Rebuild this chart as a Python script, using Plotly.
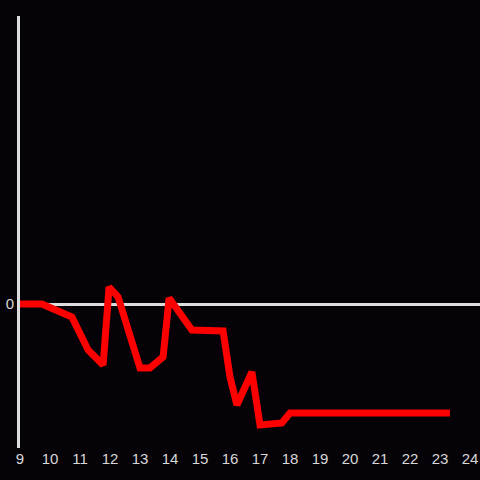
import plotly.graph_objects as go

hours = [9.0, 9.73, 10.73, 11.27, 11.77, 11.97, 12.27, 13.0, 13.33, 13.77,
         13.97, 14.73, 15.77, 16.0, 16.23, 16.73, 17.0, 17.73, 18.0, 23.33]
values = [0, 0, -1.3, -4.6, -6.1, 1.7, 0.7, -6.4, -6.4, -5.3,
          0.6, -2.6, -2.7, -7.3, -10.1, -6.8, -12.1, -11.9, -10.9, -10.9]
x_ticks = list(range(9, 25))

fig = go.Figure()
fig.add_trace(go.Scatter(x=hours, y=values, mode="lines",
                         line=dict(color="#ff0000", width=7),
                         showlegend=False, hoverinfo="skip"))

bg = "#050308"
fig.update_layout(
    width=480, height=480,
    paper_bgcolor=bg, plot_bgcolor=bg,
    margin=dict(l=20, r=0, t=16, b=32),
    font=dict(family="Liberation Sans, Arial, sans-serif", size=15, color="#d8d8d8"),
    xaxis=dict(range=[9, 24.333], tickvals=x_ticks, ticktext=[str(t) for t in x_ticks],
               showgrid=False, zeroline=False, showline=False, ticks=""),
    yaxis=dict(range=[-14.4, 28.8], tickvals=[0], ticktext=["0"],
               showgrid=False, zeroline=True, zerolinecolor="#dddddd", zerolinewidth=3,
               showline=True, linecolor="#dddddd", linewidth=3, ticks=""),
)
fig.write_html("out.html", config={"displayModeBar": False, "staticPlot": True},
               post_script="document.body.style.margin='0';document.body.style.background='#050308';")
